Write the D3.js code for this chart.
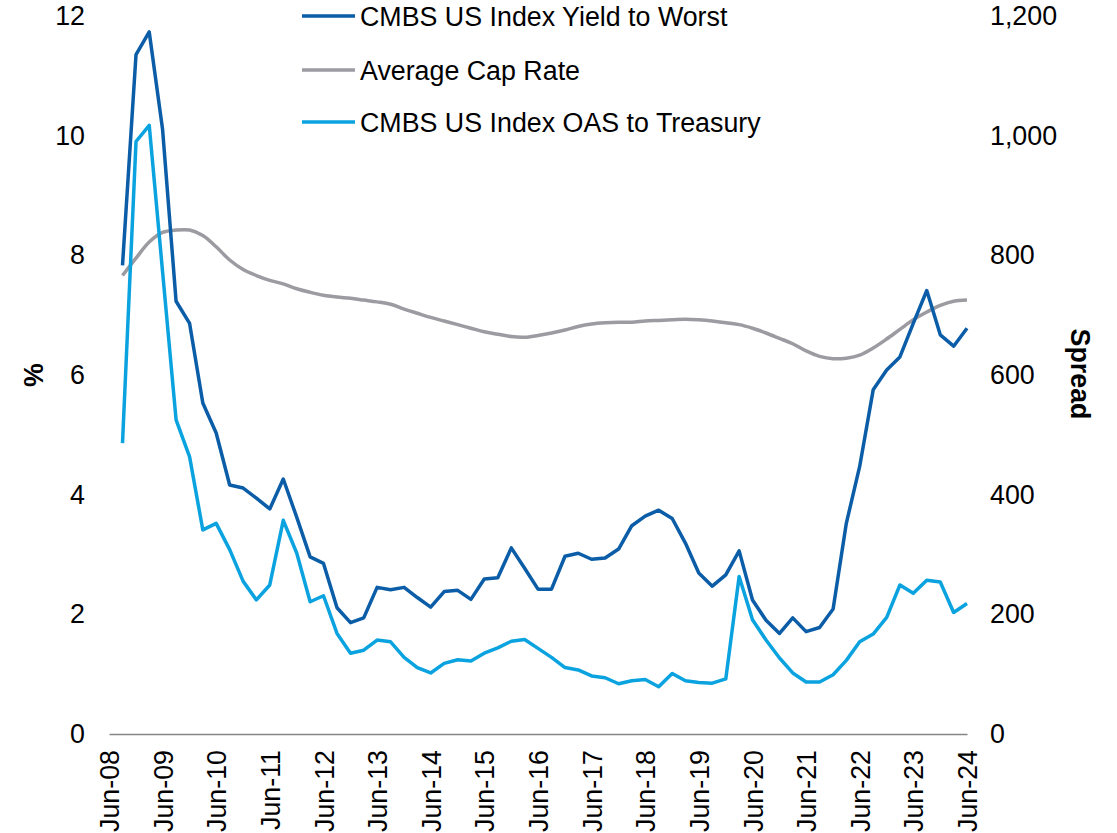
<!DOCTYPE html>
<html>
<head>
<meta charset="utf-8">
<script src="https://cdn.jsdelivr.net/npm/d3@7"></script>
<style>
  html, body { margin: 0; padding: 0; background: #fff; }
  svg { display: block; font-family: Arial, "Liberation Sans", sans-serif; }
</style>
</head>
<body>
<svg id="chart" width="1117" height="833"></svg>
<script>
// ---- Data (quarterly, Sep-08 .. Jun-24) ----
const startQuarter = "2008-09-30";
const quarterCount = 64;

const yieldToWorst = [
  7.83, 11.35, 11.73, 10.10, 7.23, 6.86, 5.53, 5.03, 4.16, 4.11,
  3.94, 3.76, 4.26, 3.62, 2.96, 2.85, 2.11, 1.86, 1.94, 2.45,
  2.41, 2.45, 2.28, 2.12, 2.38, 2.40, 2.25, 2.59, 2.61, 3.11,
  2.77, 2.42, 2.42, 2.97, 3.02, 2.92, 2.94, 3.09, 3.48, 3.64,
  3.74, 3.60, 3.19, 2.69, 2.47, 2.66, 3.06, 2.24, 1.90, 1.68,
  1.94, 1.71, 1.78, 2.09, 3.52, 4.47, 5.75, 6.08, 6.30, 6.86,
  7.41, 6.67, 6.48, 6.78
];

const avgCapRate = [
  7.66, 7.95, 8.22, 8.38, 8.42, 8.42, 8.33, 8.14, 7.92, 7.76,
  7.66, 7.58, 7.52, 7.44, 7.38, 7.33, 7.30, 7.28, 7.25, 7.22,
  7.18, 7.10, 7.03, 6.96, 6.90, 6.84, 6.78, 6.72, 6.68, 6.64,
  6.63, 6.66, 6.70, 6.75, 6.81, 6.85, 6.87, 6.88, 6.88, 6.90,
  6.91, 6.92, 6.93, 6.92, 6.90, 6.87, 6.84, 6.78, 6.70, 6.61,
  6.52, 6.40, 6.31, 6.27, 6.28, 6.33, 6.45, 6.60, 6.76, 6.92,
  7.05, 7.16, 7.23, 7.25
];

const oasSpread = [
  486, 990, 1017, 772, 525, 463, 341, 352, 308, 255,
  224, 249, 357, 302, 221, 231, 168, 135, 140, 157,
  154, 128, 111, 102, 118, 124, 122, 135, 144, 155,
  158, 143, 128, 111, 107, 97, 94, 84, 89, 91,
  79, 101, 89, 86, 85, 92, 263, 191, 157, 127,
  102, 87, 87, 99, 123, 154, 167, 195, 249, 235,
  257, 254, 203, 218
];

const leftTicks = [0, 2, 4, 6, 8, 10, 12];
const rightTicks = [0, 200, 400, 600, 800, 1000, 1200];
const xTickLabels = ["Jun-08","Jun-09","Jun-10","Jun-11","Jun-12","Jun-13","Jun-14","Jun-15",
                     "Jun-16","Jun-17","Jun-18","Jun-19","Jun-20","Jun-21","Jun-22","Jun-23","Jun-24"];

const seriesNames = ["CMBS US Index Yield to Worst", "Average Cap Rate", "CMBS US Index OAS to Treasury"];
const seriesColors = ["#0B5DA7", "#9B9BA1", "#0AA3E0"];

// ---- Build dates ----
const parse = d3.timeParse("%Y-%m-%d");
const q0 = parse(startQuarter);
const dates = d3.range(quarterCount).map(i => d3.timeDay.offset(d3.timeMonth.offset(d3.timeMonth.floor(q0), 3 * i + 1), -1));
const tickDates = xTickLabels.map(s => {
  const yy = 2000 + (+s.slice(4));
  return new Date(yy, 5, 30);
});

// ---- Scales ----
const svg = d3.select("#chart");
const xLeft = 109, xRight = 967, yBottom = 734, yTop = 15.8;
const x = d3.scaleTime().domain([tickDates[0], tickDates[tickDates.length - 1]]).range([xLeft, xRight]);
const yL = d3.scaleLinear().domain([0, 12]).range([yBottom, yTop]);
const yR = d3.scaleLinear().domain([0, 1200]).range([yBottom, yTop]);

const fs = 26.8;

// Left axis (labels only)
const leftAxis = d3.axisLeft(yL).tickValues(leftTicks).tickSize(0).tickPadding(0).tickFormat(d3.format("d"));
const gL = svg.append("g").attr("transform", `translate(85,0)`).call(leftAxis);
gL.select(".domain").remove();
gL.selectAll("text").attr("font-size", fs).attr("fill", "#000").attr("font-family", "Arial, 'Liberation Sans', sans-serif");

// Right axis (labels only)
const rightAxis = d3.axisRight(yR).tickValues(rightTicks).tickSize(0).tickPadding(0).tickFormat(d3.format(","));
const gR = svg.append("g").attr("transform", `translate(990,0)`).call(rightAxis);
gR.select(".domain").remove();
gR.selectAll("text").attr("font-size", fs).attr("fill", "#000").attr("font-family", "Arial, 'Liberation Sans', sans-serif");

// Bottom axis
const bottomAxis = d3.axisBottom(x).tickValues(tickDates).tickSize(0).tickFormat((d, i) => xTickLabels[i]);
const gB = svg.append("g").attr("transform", `translate(0,${yBottom})`).call(bottomAxis);
gB.select(".domain").attr("stroke", "#868686").attr("stroke-width", 1.5);
gB.selectAll("text")
  .attr("font-size", fs).attr("fill", "#000")
  .attr("font-family", "Arial, 'Liberation Sans', sans-serif")
  .attr("text-anchor", "end")
  .attr("transform", "rotate(-90)")
  .attr("x", -16).attr("y", 0).attr("dy", "0.36em");

// Axis titles
svg.append("text")
  .attr("transform", "translate(33,375) rotate(-90)")
  .attr("text-anchor", "middle").attr("dy", "0.36em")
  .attr("font-size", fs).attr("font-weight", "bold").attr("fill", "#000")
  .text("%");
svg.append("text")
  .attr("transform", "translate(1081,374) rotate(90)")
  .attr("text-anchor", "middle").attr("dy", "0.36em")
  .attr("font-size", fs).attr("font-weight", "bold").attr("fill", "#000")
  .text("Spread");

// Lines
const lineL = d3.line().x((d, i) => x(dates[i])).y(d => yL(d));
const lineLSmooth = d3.line().x((d, i) => x(dates[i])).y(d => yL(d)).curve(d3.curveCatmullRom.alpha(0.5));
const lineR = d3.line().x((d, i) => x(dates[i])).y(d => yR(d));

svg.append("path").datum(avgCapRate).attr("d", lineLSmooth)
  .attr("fill", "none").attr("stroke", seriesColors[1]).attr("stroke-width", 3.5).attr("stroke-linejoin", "round");
svg.append("path").datum(oasSpread).attr("d", lineR)
  .attr("fill", "none").attr("stroke", seriesColors[2]).attr("stroke-width", 3.5).attr("stroke-linejoin", "round");
svg.append("path").datum(yieldToWorst).attr("d", lineL)
  .attr("fill", "none").attr("stroke", seriesColors[0]).attr("stroke-width", 3.5).attr("stroke-linejoin", "round");

// Legend
const legendY = [16, 70, 122];
const lg = svg.append("g");
seriesNames.forEach((name, i) => {
  lg.append("line").attr("x1", 302).attr("x2", 355).attr("y1", legendY[i]).attr("y2", legendY[i])
    .attr("stroke", seriesColors[i]).attr("stroke-width", 3.5);
  lg.append("text").attr("x", 360).attr("y", legendY[i]).attr("dy", "0.36em")
    .attr("font-size", fs).attr("fill", "#000").text(name);
});
</script>
</body>
</html>
